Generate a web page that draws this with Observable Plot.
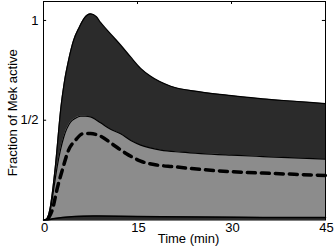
<!DOCTYPE html>
<html>
<head>
<meta charset="utf-8">
<script src="https://cdn.jsdelivr.net/npm/d3@7"></script>
<script src="https://cdn.jsdelivr.net/npm/@observablehq/plot@0.6"></script>
<style>
  html, body { margin: 0; padding: 0; background: white; }
</style>
</head>
<body>
<div id="chart"></div>
<script>
// Upper bound (dark band top)
const tUpper = [0, 0.5, 1.1, 1.9, 2.8, 3.3, 4.0, 4.8, 5.7, 6.6, 7.5, 8.4, 9.1, 10.7, 12.3, 13.9, 15.5, 17.1, 20.3, 25, 30, 35, 40, 45];
const vUpper = [0, 0.005, 0.067, 0.27, 0.57, 0.685, 0.8, 0.9, 0.965, 1.015, 1.033, 1.02, 0.99, 0.933, 0.877, 0.817, 0.76, 0.72, 0.67, 0.642, 0.623, 0.607, 0.595, 0.583];
// Middle curve (light band top)
const tMiddle = [0, 0.6, 1.1, 1.6, 2.2, 2.7, 3.25, 4.3, 5.1, 5.9, 6.7, 7.5, 9.1, 10.7, 12.3, 14, 15.5, 18.7, 22, 25.1, 30, 35, 40, 45];
const vMiddle = [0, 0.005, 0.05, 0.15, 0.27, 0.35, 0.417, 0.49, 0.51, 0.52, 0.52, 0.517, 0.487, 0.455, 0.432, 0.397, 0.375, 0.35, 0.34, 0.333, 0.325, 0.318, 0.311, 0.305];
// Lower curve (light band bottom)
const tLower = [0, 0.6, 1.5, 3, 5, 8, 15, 25, 35, 45];
const vLower = [0, 0, 0.006, 0.013, 0.018, 0.02, 0.018, 0.015, 0.013, 0.012];
// Dashed curve
const tDashed = [0.8, 1.4, 2.2, 3.0, 4.0, 5.1, 6.4, 7.5, 9.1, 11, 13.1, 15.5, 18.2, 20.8, 23.5, 30, 35, 40, 45];
const vDashed = [0.01, 0.05, 0.16, 0.25, 0.35, 0.4, 0.433, 0.433, 0.42, 0.38, 0.335, 0.295, 0.275, 0.267, 0.258, 0.242, 0.235, 0.229, 0.223];

const xTicks = [0, 15, 30, 45];
const yTicks = [0.5, 1];
const yTickLabels = ["1/2", "1"];
const xLabel = "Time (min)";
const yLabel = "Fraction of Mek active";

const zip = (t, v) => t.map((x, i) => ({t: x, v: v[i]}));
const upper = zip(tUpper, vUpper);
const middle = zip(tMiddle, vMiddle);
const lower = zip(tLower, vLower);
const dashed = zip(tDashed, vDashed);

const DARK = "#2b2b2b", LIGHT = "#8c8c8c";
const curve = "monotone-x";

const chart = Plot.plot({
  width: 335,
  height: 252,
  marginLeft: 43,
  marginRight: 10,
  marginTop: 1,
  marginBottom: 32.5,
  x: {domain: [0, 45]},
  y: {domain: [0, 1.095]},
  style: {fontFamily: "'Liberation Sans', Arial, sans-serif", fontSize: "13px", color: "black", background: "white"},
  marks: [
    // inward ticks (beneath data)
    Plot.ruleY(yTicks, {y: d => d, x1: 0, x2: 0.5, stroke: "black"}),
    Plot.ruleY(yTicks, {y: d => d, x1: 44.5, x2: 45, stroke: "black"}),
    Plot.ruleX(xTicks, {x: d => d, y1: 1.08, y2: 1.095, stroke: "black"}),
    Plot.areaY(upper, {x: "t", y: "v", fill: DARK, curve}),
    Plot.areaY(middle, {x: "t", y: "v", fill: LIGHT, curve}),
    Plot.areaY(lower, {x: "t", y: "v", fill: DARK, curve}),
    Plot.lineY(upper, {x: "t", y: "v", stroke: "black", strokeWidth: 1.2, curve}),
    Plot.lineY(middle, {x: "t", y: "v", stroke: "black", strokeWidth: 1.2, curve}),
    Plot.lineY(lower, {x: "t", y: "v", stroke: "black", strokeWidth: 1.5, curve}),
    Plot.lineY(dashed, {x: "t", y: "v", stroke: "black", strokeWidth: 3.5, strokeDasharray: "8,6", curve}),
    Plot.frame({stroke: "black", strokeWidth: 1}),
    Plot.axisX(xTicks, {tickSize: 0, tickPadding: 3, label: null, dx: 1, fill: "black", fontSize: 13}),
    Plot.axisY(yTicks, {tickSize: 0, tickPadding: 5, tickFormat: d => yTickLabels[yTicks.indexOf(d)], label: null, fill: "black", fontSize: 13}),
    Plot.text([xLabel], {text: d => d, frameAnchor: "bottom", dx: 4, dy: 23, fill: "black", fontSize: 13}),
    Plot.text([yLabel], {text: d => d, frameAnchor: "left", textAnchor: "middle", rotate: -90, dx: -31, dy: 2, fill: "black", fontSize: 13})
  ]
});
document.getElementById("chart").appendChild(chart);
</script>
</body>
</html>
